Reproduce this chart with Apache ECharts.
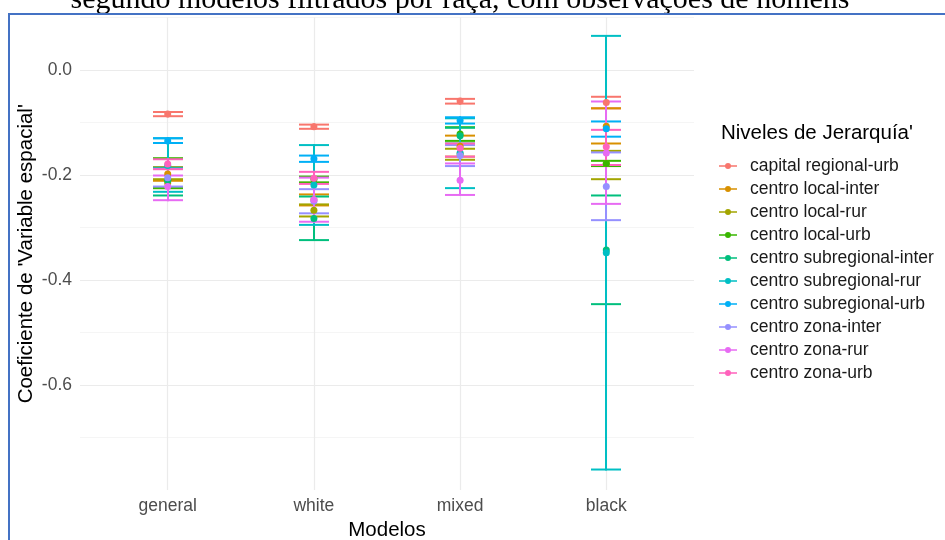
<!DOCTYPE html>
<html>
<head>
<meta charset="utf-8">
<script src="https://cdn.jsdelivr.net/npm/echarts@6/dist/echarts.min.js"></script>
<style>html,body{margin:0;padding:0;background:#fff}#c{width:945px;height:540px}</style>
</head>
<body>
<div id="c"></div>
<script>
const titleText = 'segundo modelos filtrados por raça, com observações de homens';
const models = ['general', 'white', 'mixed', 'black'];
const levels = ['capital regional-urb', 'centro local-inter', 'centro local-rur', 'centro local-urb',
  'centro subregional-inter', 'centro subregional-rur', 'centro subregional-urb',
  'centro zona-inter', 'centro zona-rur', 'centro zona-urb'];
const yTicks = [-0.6, -0.4, -0.2, 0.0];

// point estimates and interval bounds, per model, in the order of `levels`
const est_general = [-0.084, -0.198, -0.215, -0.210, -0.210, -0.182, -0.135, -0.205, -0.222, -0.179];
const lo_general  = [-0.088, -0.211, -0.225, -0.225, -0.239, -0.232, -0.139, -0.222, -0.248, -0.189];
const hi_general  = [-0.080, -0.185, -0.208, -0.168, -0.186, -0.130, -0.130, -0.188, -0.201, -0.170];

const est_white = [-0.108, -0.247, -0.267, -0.208, -0.283, -0.219, -0.169, -0.250, -0.247, -0.206];
const lo_white  = [-0.112, -0.258, -0.279, -0.214, -0.324, -0.295, -0.175, -0.273, -0.289, -0.217];
const hi_white  = [-0.104, -0.237, -0.256, -0.203, -0.241, -0.143, -0.163, -0.227, -0.205, -0.194];

const est_mixed = [-0.059, -0.145, -0.160, -0.122, -0.125, -0.158, -0.096, -0.163, -0.210, -0.149];
const lo_mixed  = [-0.064, -0.165, -0.171, -0.135, -0.140, -0.225, -0.102, -0.183, -0.238, -0.165];
const hi_mixed  = [-0.055, -0.125, -0.150, -0.109, -0.110, -0.092, -0.090, -0.143, -0.178, -0.140];

const est_black = [-0.062, -0.107, -0.178, -0.178, -0.343, -0.348, -0.112, -0.222, -0.158, -0.146];
const lo_black  = [-0.073, -0.140, -0.208, -0.183, -0.446, -0.761, -0.127, -0.286, -0.255, -0.181];
const hi_black  = [-0.051, -0.073, -0.154, -0.173, -0.239, 0.065, -0.098, -0.157, -0.060, -0.114];

const palette = ['#F8766D', '#D89000', '#A3A500', '#39B600', '#00BF7D', '#00BFC4', '#00B0F6', '#9590FF', '#E76BF3', '#FF62BC'];

const EST = [est_general, est_white, est_mixed, est_black];
const LO = [lo_general, lo_white, lo_mixed, lo_black];
const HI = [hi_general, hi_white, hi_mixed, hi_black];

const FONT = "'Liberation Sans', Arial, sans-serif";
const iconPath = 'path://M0,4.2 L18,4.2 L18,5.8 L0,5.8 Z M9,2 A3,3 0 1,1 9,8 A3,3 0 1,1 9,2 Z';

const chart = echarts.init(document.getElementById('c'), null, {renderer: 'canvas'});

const series = [];
// vertical grid lines at category positions
series.push({
  type: 'line', name: '__grid', data: [], z: 0, silent: true,
  markLine: {
    z: 0, silent: true, symbol: ['none', 'none'], label: {show: false},
    lineStyle: {color: '#EBEBEB', width: 1.2, type: 'solid'},
    emphasis: {disabled: true},
    data: models.map((m, i) => ({xAxis: i + 1}))
  }
});
levels.forEach((name, j) => {
  const color = palette[j];
  series.push({
    type: 'custom', name: name, z: 2,
    itemStyle: {color: color},
    encode: {x: 0, y: [1, 2]},
    data: models.map((m, i) => [i + 1, LO[i][j], HI[i][j]]),
    renderItem: function (params, api) {
      const x = api.value(0);
      const pLo = api.coord([x, api.value(1)]);
      const pHi = api.coord([x, api.value(2)]);
      const cx = Math.round(pLo[0]);
      const hw = 15, lw = 2;
      const st = {fill: color, stroke: null};
      return {
        type: 'group', children: [
          {type: 'rect', shape: {x: cx - lw / 2, y: pHi[1] - lw / 2, width: lw, height: pLo[1] - pHi[1] + lw}, style: st},
          {type: 'rect', shape: {x: cx - hw, y: pHi[1] - lw / 2, width: 2 * hw, height: lw}, style: st},
          {type: 'rect', shape: {x: cx - hw, y: pLo[1] - lw / 2, width: 2 * hw, height: lw}, style: st}
        ]
      };
    }
  });
});
levels.forEach((name, j) => {
  series.push({
    type: 'scatter', name: name, z: 3,
    symbol: 'circle', symbolSize: 7,
    itemStyle: {color: palette[j], opacity: 1},
    data: models.map((m, i) => [i + 1, EST[i][j]])
  });
});

chart.setOption({
  backgroundColor: '#ffffff',
  animation: false,
  color: palette,
  title: [{
    text: "Niveles de Jerarquía'",
    left: 716, top: 118,
    textStyle: {fontFamily: FONT, fontSize: 20.5, fontWeight: 'normal', color: '#000'}
  }],
  legend: {
    orient: 'vertical', left: 719, top: 157,
    itemWidth: 18, itemHeight: 10, itemGap: 5,
    padding: 0,
    textStyle: {fontFamily: FONT, fontSize: 17.5, color: '#1A1A1A', padding: [0, 0, 0, 8]},
    data: levels.map(n => ({name: n, icon: iconPath}))
  },
  grid: {left: 80, right: 251, top: 17.5, bottom: 50, containLabel: false, outerBoundsMode: 'none'},
  xAxis: {
    type: 'value', min: 0.4, max: 4.6,
    name: 'Modelos', nameLocation: 'middle', nameGap: 21,
    nameTextStyle: {fontFamily: FONT, fontSize: 20.5, color: '#000'},
    axisLine: {show: false}, axisTick: {show: false}, splitLine: {show: false},
    axisLabel: {
      customValues: [1, 2, 3, 4], margin: 7,
      fontFamily: FONT, fontSize: 17.5, color: '#4D4D4D',
      formatter: v => models[Math.round(v) - 1] || ''
    }
  },
  yAxis: [{
    type: 'value', min: -0.8, max: 0.1, interval: 0.1,
    name: "Coeficiente de 'Variable espacial'", nameLocation: 'middle', nameGap: 43, nameRotate: 90,
    nameTextStyle: {fontFamily: FONT, fontSize: 20.5, color: '#000'},
    axisLine: {show: false}, axisTick: {show: false},
    axisLabel: {show: false},
    splitLine: {show: true, showMinLine: false, showMaxLine: true, lineStyle: {color: '#F2F2F2', width: 0.8}}
  }, {
    type: 'value', min: -0.8, max: 0.1, interval: 0.2, position: 'left',
    axisLine: {show: false}, axisTick: {show: false},
    axisLabel: {
      show: true, margin: 8, showMinLabel: false, showMaxLabel: false,
      fontFamily: FONT, fontSize: 17.5, color: '#4D4D4D',
      formatter: v => (yTicks.some(t => Math.abs(t - v) < 1e-9) ? v.toFixed(1) : '')
    },
    splitLine: {show: true, showMinLine: false, showMaxLine: false, lineStyle: {color: '#EBEBEB', width: 1.2}}
  }],
  series: series,
  graphic: [{
    type: 'text', x: 460, y: 0.3, z: 100,
    style: {
      text: titleText, font: "30px 'Liberation Serif', 'Times New Roman', serif",
      fill: '#000', textAlign: 'center', textVerticalAlign: 'middle'
    }
  }, {
    type: 'rect', z: 100, silent: true,
    shape: {x: 9, y: 14, width: 945, height: 540},
    style: {fill: null, stroke: '#4472C4', lineWidth: 2}
  }]
});
</script>
</body>
</html>
